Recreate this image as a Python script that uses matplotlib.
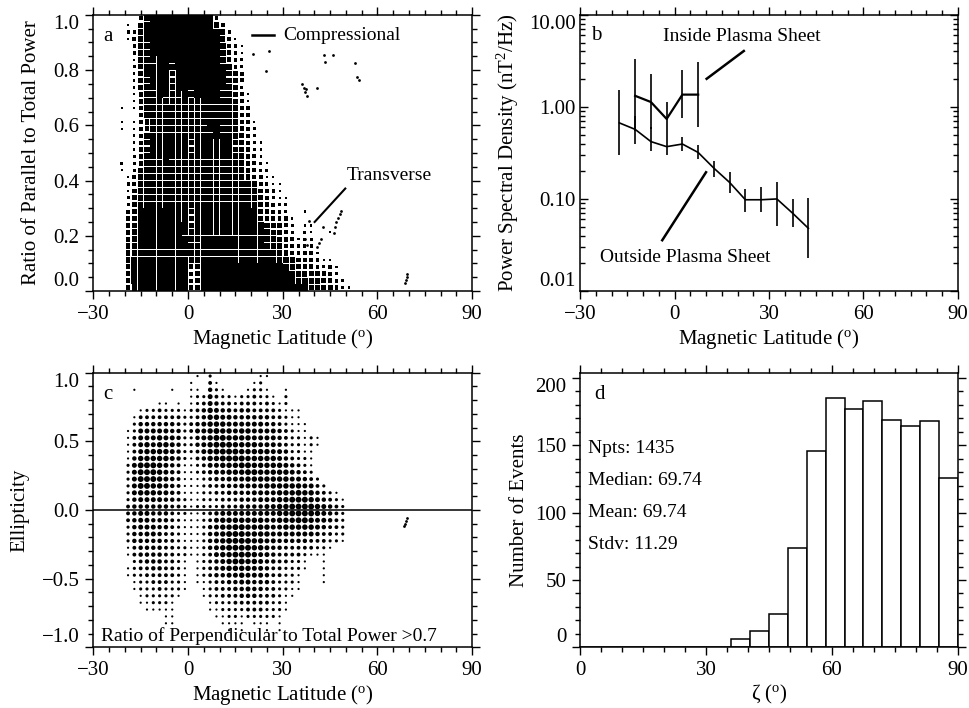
import numpy as np
import matplotlib
matplotlib.use('Agg')
import matplotlib.pyplot as plt
from matplotlib.ticker import MultipleLocator, LogLocator, NullFormatter, FixedFormatter

plt.rcParams['font.family'] = ['Liberation Serif', 'DejaVu Serif']
plt.rcParams['mathtext.fontset'] = 'custom'
plt.rcParams['mathtext.rm'] = 'Liberation Serif'
plt.rcParams['mathtext.it'] = 'Liberation Serif:italic'

# ---- panel a: point density, 2 deg x 0.025 cells, top row first (0-9)
dens_a = [
    "00003 79999 99999 93000",
    "00105 89999 99999 97300",
    "00226 99999 99999 99520",
    "00136 89999 99999 99631",
    "00026 89999 99999 99742 10000",
    "00026 78999 99999 99753 10000",
    "00016 78899 99999 98753 20000",
    "00025 77887 99999 98763 20000",
    "00015 77886 89999 98764 30000",
    "00015 67886 89899 88765 30000",
    "00015 67886 88788 88765 20000",
    "00014 67876 78788 88765 31000",
    "00014 67776 77678 88775 31000",
    "01013 67777 77678 88775 32000",
    "00003 67777 77677 88776 42000",
    "01013 57777 77677 88776 42100",
    "01013 57777 77677 88776 43200",
    "00013 67777 77677 78776 53200",
    "00013 67777 77677 77776 53210",
    "00014 67777 77677 77776 54210",
    "00024 67787 77677 77776 64310",
    "02024 67777 77677 77776 65321",
    "01025 77777 77677 77777 65322",
    "00135 77777 77677 77777 65431 10000",
    "00235 77777 77677 77777 76532 11000",
    "00146 77777 77677 77777 76543 21000",
    "00246 77777 77677 77777 77643 21100",
    "00246 77777 77677 77777 77654 32200",
    "00357 88888 77677 77777 77765 33200 10000",
    "00357 88888 77677 77777 77765 43310",
    "00467 88888 87677 77777 77776 54320 11000",
    "00468 88888 87677 77777 77776 54320 21001",
    "00468 88888 88778 88888 88887 65431 22000",
    "00578 88888 88778 88888 88887 65432 22000",
    "00578 88888 88778 88888 88888 76543 33100",
    "00588 88888 88668 88888 88888 87654 33211",
    "00588 88888 88448 88889 99999 98765 44323 100",
    "00588 88888 88348 88899 99999 99876 65443 200",
    "00488 88888 88349 99999 99999 99987 76654 320",
    "00378 88888 88349 99999 99999 99998 76655 321",
]
# isolated points in panel a
out_a_lat = [20.7, 25.5, 24.8, 43.0, 43.5, 45.9, 53.0, 53.5, 54.0, 36.2, 36.6, 37.0, 37.4, 37.6,
             40.9, 38.2, 37.1, 37.7, 42.8, 41.0, 41.5, 42.0, 46.1, 46.5, 47.0, 47.5, 48.0, 48.3,
             68.6, 68.9, 69.2, 69.5]
out_a_ratio = [0.86, 0.868, 0.796, 0.854, 0.83, 0.854, 0.826, 0.775, 0.763, 0.75, 0.735, 0.72, 0.73, 0.705,
               0.735, 0.255, 0.189, 0.165, 0.231, 0.16, 0.175, 0.19, 0.21, 0.23, 0.25, 0.265, 0.28, 0.29,
               0.03, 0.04, 0.05, 0.06]

# ---- panel b: power spectral density vs latitude
lat_out = [-17.5, -12.5, -7.5, -2.5, 2.5, 7.5, 12.5, 17.5, 22.5, 27.5, 32.5, 37.5, 42.5]
psd_out = [0.67, 0.57, 0.42, 0.37, 0.395, 0.32, 0.216, 0.151, 0.098, 0.098, 0.100, 0.070, 0.048]
psd_out_lo = [0.30, 0.40, 0.33, 0.30, 0.33, 0.27, 0.175, 0.115, 0.072, 0.072, 0.051, 0.050, 0.023]
psd_out_hi = [1.51, 0.80, 0.60, 0.52, 0.47, 0.39, 0.26, 0.194, 0.129, 0.134, 0.152, 0.100, 0.102]
lat_in = [-12.5, -7.5, -2.5, 2.5, 7.5]
psd_in = [1.32, 1.13, 0.74, 1.36, 1.36]
psd_in_lo = [0.55, 0.57, 0.52, 0.76, 0.60]
psd_in_hi = [3.34, 2.25, 1.12, 2.49, 3.10]

# ---- panel c: ellipticity density, 2 deg x 0.05 cells, top row (y=1) first
dens_c = [
    "00000 00000 00010 20000 00011",
    "00000 00000 00100 31000 00120",
    "00010 00001 00110 42100 01221 00100",
    "00000 00000 00122 53221 22322 10200",
    "00000 00110 10123 54332 33323 21200",
    "00001 22322 21234 65443 44333 32111",
    "00013 33333 32234 66554 44444 33211",
    "00024 44444 32345 66655 55554 43211 10000",
    "00125 55554 42355 67665 66555 54321 10000",
    "00135 55655 42245 67766 66555 54322 12100",
    "00135 65665 42245 67776 66655 54322 12100",
    "00135 66665 42235 67777 66666 55422 11000",
    "00146 66665 42134 66777 76666 65432 21000",
    "00257 77654 31123 55666 77666 66543 21000",
    "00257 77654 31123 45566 67766 66654 32000",
    "00257 77654 31112 34455 56666 66655 43200",
    "00257 76654 31112 33444 55556 66666 55320",
    "00256 66554 31112 23344 44555 56667 66432 100",
    "00245 55544 32112 22333 44455 56677 76543 210",
    "00344 44443 32122 22333 44445 56677 77654 320",
    "00345 54443 22112 34555 55555 56677 77654 320",
    "00345 54443 21112 35666 66665 56667 76554 320",
    "00245 55443 21112 45667 76666 55666 66543 320",
    "00244 55433 21112 45677 76666 55555 55433 220",
    "00244 44433 21112 45677 77665 54444 43332 210",
    "00134 44433 22112 45677 77665 44333 33221",
    "00134 44433 22112 35667 77655 43333 21110",
    "00023 44433 21012 34567 76654 43322 10010",
    "00123 34433 21012 34566 66554 33222 10010",
    "00122 33333 21012 34455 65554 33221 00010",
    "00012 23332 21011 23344 55444 32221 00010",
    "00012 22322 21001 23334 45443 32211",
    "00001 22222 10001 22333 44433 32110",
    "00001 12221 00000 12223 33333 22100",
    "00000 11111 00000 11222 23332 22100",
    "00000 00011 00000 01122 12222 21000",
    "00000 00011 00000 00111 10111 01000",
    "00000 00000 00000 00010 10001 01000",
    "",
    "",
]
out_c_lat = [68.3, 68.6, 69.0, 69.3]
out_c_ell = [-0.12, -0.10, -0.08, -0.06]

# ---- panel d: histogram of zeta
zeta_edges = np.linspace(0, 90, 21)
zeta_counts = [0, 0, 0, 0, 0, 0, 0, 0, 6, 12, 25, 74, 146, 185, 177, 183, 169, 164, 168, 126]
stats_text = ["Npts: 1435", "Median: 69.74", "Mean: 69.74", "Stdv: 11.29"]

cell_lat = np.arange(-23, 52, 2)  # column centres of the density grids
CELL_PX = 6.6  # on-screen size of one grid cell


def grid_cells(rows, y_top, dy):
    lat, val, lev = [], [], []
    for r, row in enumerate(rows):
        row = row.replace(' ', '').ljust(len(cell_lat), '0')
        for i, ch in enumerate(row):
            if ch != '0':
                lat.append(cell_lat[i])
                val.append(y_top - dy * (r + 0.5))
                lev.append(int(ch))
    return np.array(lat), np.array(val), np.array(lev)


def halftone_squares(ax, rows, y_top, dy, scale):
    # dense panel: square blots that merge into solid black
    lat, val, lev = grid_cells(rows, y_top, dy)
    f = np.sqrt(np.minimum(1.0, lev / 9 * scale))
    f = np.where(f >= 0.999, 1.04, f)
    ax.bar(lat, dy * f, width=2 * f, bottom=val - dy * f / 2, color='k', linewidth=0)


def halftone_dots(ax, rows, y_top, dy, scale):
    # sparse panel: round dots
    lat, val, lev = grid_cells(rows, y_top, dy)
    d = np.sqrt(4 / np.pi * lev / 9 * scale)
    ax.scatter(lat, val, s=(d * CELL_PX * 0.72) ** 2, c='k', marker='o', linewidths=0)


def style(ax, ydir='out'):
    ax.tick_params(which='both', direction='out', top=True, right=True, labelsize=15, width=1)
    ax.tick_params(which='major', length=6, pad=4)
    ax.tick_params(which='minor', length=3.5)
    if ydir == 'in':
        ax.tick_params(axis='y', which='both', direction='in', pad=3)
    for s in ax.spines.values():
        s.set_linewidth(1.1)


def clip_end_labels(ax):
    ticks = ax.yaxis.get_major_ticks()
    ticks[0].label1.set_va('bottom')
    ticks[-1].label1.set_va('top')


fig = plt.figure(figsize=(9.69, 7.08), dpi=100)
ax_a = fig.add_axes([0.0963, 0.589, 0.391, 0.390])
ax_b = fig.add_axes([0.5986, 0.589, 0.390, 0.390])
ax_c = fig.add_axes([0.0963, 0.0857, 0.391, 0.388])
ax_d = fig.add_axes([0.5986, 0.0857, 0.390, 0.388])
xlab = r'Magnetic Latitude ($^{\rm o}$)'

# a
halftone_squares(ax_a, dens_a, 1.0, 0.025, 1.05)
ax_a.plot(out_a_lat, out_a_ratio, 'ko', ms=2.0, mew=0)
ax_a.set_xlim(-30, 90)
ax_a.set_ylim(0, 1)
ax_a.set_xticks([-30, 0, 30, 60, 90])
ax_a.set_yticks([0, 0.2, 0.4, 0.6, 0.8, 1.0])
ax_a.yaxis.set_major_formatter(FixedFormatter(['0.0', '0.2', '0.4', '0.6', '0.8', '1.0']))
ax_a.xaxis.set_minor_locator(MultipleLocator(5))
ax_a.yaxis.set_minor_locator(MultipleLocator(0.05))
ax_a.set_xlabel(xlab, fontsize=15, labelpad=2)
ax_a.set_ylabel('Ratio of Parallel to Total Power', fontsize=15, labelpad=9)
ax_a.text(-26.7, 0.92, 'a', fontsize=15, va='center')
ax_a.plot([20.2, 27.3], [0.927, 0.927], 'k-', lw=1.8)
ax_a.text(30, 0.927, 'Compressional', fontsize=14, va='center')
ax_a.plot([40.1, 49.8], [0.25, 0.371], 'k-', lw=1.5)
ax_a.text(63.7, 0.42, 'Transverse', fontsize=14, ha='center', va='center')
style(ax_a)
clip_end_labels(ax_a)

# b
ax_b.errorbar(lat_out, psd_out, yerr=[np.subtract(psd_out, psd_out_lo), np.subtract(psd_out_hi, psd_out)],
              color='k', lw=1.2, elinewidth=1.2, capsize=0)
ax_b.errorbar(lat_in, psd_in, yerr=[np.subtract(psd_in, psd_in_lo), np.subtract(psd_in_hi, psd_in)],
              color='k', lw=1.6, elinewidth=1.2, capsize=0)
ax_b.set_yscale('log')
ax_b.set_xlim(-30, 90)
ax_b.set_ylim(0.01, 10)
ax_b.set_xticks([-30, 0, 30, 60, 90])
ax_b.set_yticks([0.01, 0.1, 1, 10])
ax_b.yaxis.set_major_formatter(FixedFormatter(['0.01', '0.10', '1.00', '10.00']))
ax_b.yaxis.set_minor_locator(LogLocator(base=10, subs=np.arange(2, 10)))
ax_b.yaxis.set_minor_formatter(NullFormatter())
ax_b.xaxis.set_minor_locator(MultipleLocator(5))
ax_b.set_xlabel(xlab, fontsize=15, labelpad=2)
ax_b.set_ylabel(r'Power Spectral Density (nT$^2$/Hz)', fontsize=15, labelpad=6)
ax_b.text(-26.5, 5.9, 'b', fontsize=15, va='center')
ax_b.plot([10.2, 22.0], [2.02, 4.05], 'k-', lw=1.8)
ax_b.text(21.4, 5.8, 'Inside Plasma Sheet', fontsize=14, ha='center', va='center')
ax_b.plot([10.0, -3.9], [0.195, 0.0356], 'k-', lw=1.8)
ax_b.text(3.4, 0.0232, 'Outside Plasma Sheet', fontsize=14, ha='center', va='center')
style(ax_b, ydir='in')
clip_end_labels(ax_b)

# c
halftone_dots(ax_c, dens_c, 1.0, 0.05, 0.8)
ax_c.plot(out_c_lat, out_c_ell, 'ko', ms=2.0, mew=0)
ax_c.axhline(0, color='k', lw=1.1)
ax_c.set_xlim(-30, 90)
ax_c.set_ylim(-1, 1)
ax_c.set_xticks([-30, 0, 30, 60, 90])
ax_c.set_yticks([-1, -0.5, 0, 0.5, 1])
ax_c.yaxis.set_major_formatter(FixedFormatter(['\u22121.0', '\u22120.5', '0.0', '0.5', '1.0']))
ax_c.xaxis.set_minor_locator(MultipleLocator(5))
ax_c.yaxis.set_minor_locator(MultipleLocator(0.1))
ax_c.set_xlabel(xlab, fontsize=15, labelpad=2)
ax_c.set_ylabel('Ellipticity', fontsize=15, labelpad=9)
ax_c.text(-26.7, 0.84, 'c', fontsize=15, va='center')
ax_c.text(-27.7, -0.92, 'Ratio of Perpendicular to Total Power >0.7', fontsize=14, va='center')
style(ax_c)
clip_end_labels(ax_c)

# d
ax_d.bar(zeta_edges[:-1], zeta_counts, width=np.diff(zeta_edges), align='edge',
         facecolor='white', edgecolor='k', lw=1.1)
ax_d.set_xlim(0, 90)
ax_d.set_ylim(0, 204)
ax_d.set_xticks([0, 30, 60, 90])
ax_d.set_yticks([0, 50, 100, 150, 200])
ax_d.xaxis.set_minor_locator(MultipleLocator(5))
ax_d.yaxis.set_minor_locator(MultipleLocator(10))
ax_d.set_xlabel('\u03b6 ($^{\\rm o}$)', fontsize=15, labelpad=2)
ax_d.set_ylabel('Number of Events', fontsize=15)
ax_d.text(3.3, 188, 'd', fontsize=15, va='center')
for k, s in enumerate(stats_text):
    ax_d.text(1.9, 147.5 - 23.7 * k, s, fontsize=14, va='center')
style(ax_d)
clip_end_labels(ax_d)

fig.savefig('out.png', dpi=100)
